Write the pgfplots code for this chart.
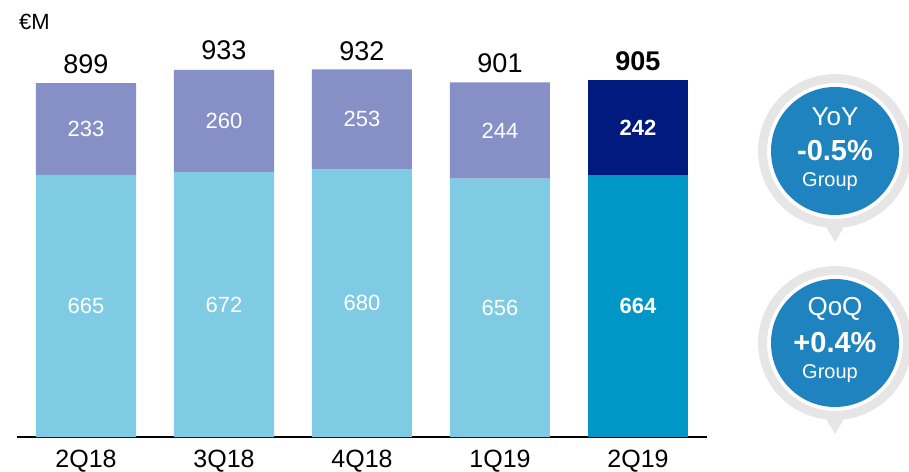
\documentclass[border=0pt]{standalone}
\usepackage{pgfplots}
\pgfplotsset{compat=1.18}
\usepackage{fontspec}
\setmainfont{Liberation Sans}
\definecolor{lowc}{HTML}{7FCBE3}
\definecolor{topc}{HTML}{8690C6}
\definecolor{lowd}{HTML}{0097C7}
\definecolor{topd}{HTML}{001A80}
\definecolor{badge}{HTML}{1E83BF}
\definecolor{ring}{HTML}{E6E6E6}
\tikzset{
  seg/.style={white, font=\fontsize{11}{12}\selectfont},
  segb/.style={white, font=\fontsize{11}{12}\selectfont\bfseries},
  tot/.style={font=\fontsize{13.5}{15}\selectfont, yshift=9.5pt},
  totb/.style={font=\fontsize{13.5}{15}\selectfont\bfseries, yshift=9.5pt},
}
\begin{document}
\begin{tikzpicture}
\useasboundingbox (0,0) rectangle (454.5pt,235.5pt);
\begin{axis}[
  at={(8.5pt,17pt)}, anchor=south west,
  scale only axis, width=345pt, height=197pt,
  xmin=-0.5, xmax=4.5, ymin=0, ymax=1000,
  ybar stacked, bar width=50pt,
  axis x line*=bottom, axis y line=none,
  x axis line style={black, line width=0.6pt, -},
  xtick={0,1,2,3,4},
  xticklabels={2Q18,3Q18,4Q18,1Q19,2Q19},
  major tick length=0pt,
  xticklabel style={font=\fontsize{12.5}{14}\selectfont, yshift=-2.8pt},
  clip=false,
]
\addplot[fill=lowc, draw=none] coordinates {(0,665) (1,672) (2,680) (3,656) (4,0)};
\addplot[fill=lowd, draw=none] coordinates {(0,0) (1,0) (2,0) (3,0) (4,664)};
\addplot[fill=topc, draw=none] coordinates {(0,233) (1,260) (2,253) (3,244) (4,0)};
\addplot[fill=topd, draw=none] coordinates {(0,0) (1,0) (2,0) (3,0) (4,242)};
\coordinate (l0) at (axis cs:0,332.5);
\coordinate (l1) at (axis cs:1,336);
\coordinate (l2) at (axis cs:2,340);
\coordinate (l3) at (axis cs:3,328);
\coordinate (l4) at (axis cs:4,332);
\coordinate (u0) at (axis cs:0,781.5);
\coordinate (u1) at (axis cs:1,802);
\coordinate (u2) at (axis cs:2,806.5);
\coordinate (u3) at (axis cs:3,778);
\coordinate (u4) at (axis cs:4,785);
\coordinate (t0) at (axis cs:0,899);
\coordinate (t1) at (axis cs:1,933);
\coordinate (t2) at (axis cs:2,932);
\coordinate (t3) at (axis cs:3,901);
\coordinate (t4) at (axis cs:4,905);
\end{axis}
\node[seg] at (l0) {665};
\node[seg] at (l1) {672};
\node[seg] at (l2) {680};
\node[seg] at (l3) {656};
\node[segb] at (l4) {664};
\node[seg] at (u0) {233};
\node[seg] at (u1) {260};
\node[seg] at (u2) {253};
\node[seg] at (u3) {244};
\node[segb] at (u4) {242};
\node[tot] at (t0) {899};
\node[tot] at (t1) {933};
\node[tot] at (t2) {932};
\node[tot] at (t3) {901};
\node[totb] at (t4) {905};
\node[font=\fontsize{11}{12}\selectfont, anchor=west] at (6pt,224.5pt) {€M};
\foreach \cy/\ta/\tb in {160/YoY/-0.5\%, 64/QoQ/+0.4\%} {
  \fill[ring] (417.5pt,\cy pt-45.5pt) -- (412.5pt,\cy pt-37pt) -- (422.5pt,\cy pt-37pt) -- cycle;
  \draw[ring, line width=4.5pt] (417.5pt,\cy pt) circle (36.2pt);
  \fill[badge] (417.5pt,\cy pt) circle (32pt);
  \node[white, font=\fontsize{13}{15}\selectfont] at (417.5pt,\cy pt+17pt) {\ta};
  \node[white, font=\fontsize{14.5}{16}\selectfont\bfseries] at (417.5pt,\cy pt) {\tb};
  \node[white, font=\fontsize{10}{12}\selectfont] at (415pt,\cy pt-15.5pt) {Group};
}
\end{tikzpicture}
\end{document}
